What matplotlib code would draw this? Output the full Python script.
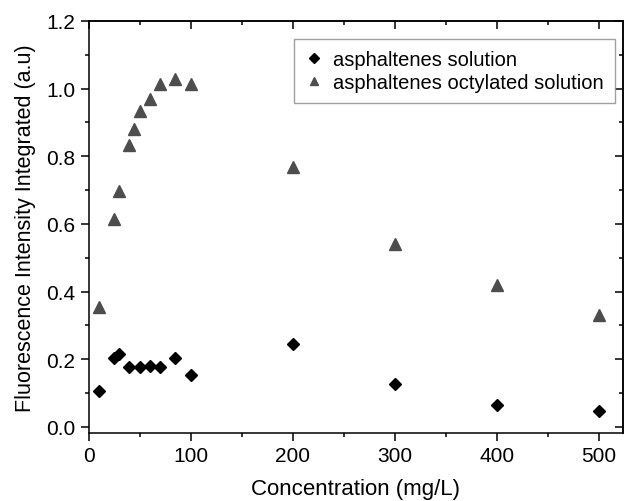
import numpy as np
import matplotlib
matplotlib.use('Agg')
import matplotlib.pyplot as plt
from matplotlib.ticker import MultipleLocator

plt.rcParams['font.family'] = ['Liberation Sans', 'DejaVu Sans']

# Data
conc_plain = [10, 25, 30, 40, 50, 60, 70, 85, 100, 200, 300, 400, 500]
fluo_plain = [0.106, 0.205, 0.215, 0.176, 0.176, 0.180, 0.177, 0.205, 0.152,
              0.245, 0.128, 0.065, 0.047]

conc_oct = [10, 25, 30, 40, 45, 50, 60, 70, 85, 100, 200, 300, 400, 500]
fluo_oct = [0.354, 0.615, 0.697, 0.832, 0.882, 0.935, 0.968, 1.015, 1.029,
            1.015, 0.767, 0.540, 0.419, 0.332]

fig = plt.figure(figsize=(6.25, 5.02), dpi=100)
ax = fig.add_axes([0.1416, 0.1355, 0.8546, 0.8207])

ax.plot(conc_plain, fluo_plain, linestyle='none', marker='D', ms=6.5,
        color='black', label='asphaltenes solution')
ax.plot(conc_oct, fluo_oct, linestyle='none', marker='^', ms=8,
        color='#4d4d4d', label='asphaltenes octylated solution')

ax.set_xlim(0, 523)
ax.set_ylim(-0.018, 1.2)
ax.xaxis.set_major_locator(MultipleLocator(100))
ax.xaxis.set_minor_locator(MultipleLocator(50))
ax.yaxis.set_major_locator(MultipleLocator(0.2))
ax.yaxis.set_minor_locator(MultipleLocator(0.1))
ax.tick_params(which='major', direction='out', length=6, width=1.1, labelsize=15)
ax.tick_params(which='minor', direction='out', length=3, width=1.1)

# inward ticks on the top and right sides
top = ax.secondary_xaxis('top')
top.xaxis.set_major_locator(MultipleLocator(100))
top.xaxis.set_minor_locator(MultipleLocator(50))
top.tick_params(which='major', direction='in', length=6, width=1.1, labeltop=False)
top.tick_params(which='minor', direction='in', length=3, width=1.1)
right = ax.secondary_yaxis('right')
right.yaxis.set_major_locator(MultipleLocator(0.2))
right.yaxis.set_minor_locator(MultipleLocator(0.1))
right.tick_params(which='major', direction='in', length=6, width=1.1, labelright=False)
right.tick_params(which='minor', direction='in', length=3, width=1.1)

for a in (ax, top, right):
    for s in a.spines.values():
        s.set_linewidth(1.1)

ax.set_xlabel('Concentration (mg/L)', fontsize=16, labelpad=9)
ax.set_ylabel('Fluorescence Intensity Integrated (a.u)', fontsize=15.5, labelpad=7)

leg = ax.legend(loc='upper right', bbox_to_anchor=(0.9856, 0.956), borderaxespad=0,
                fontsize=14.5, frameon=True, fancybox=False, handlelength=0.9,
                handletextpad=0.5, labelspacing=0.2, borderpad=0.55, markerscale=0.8)
leg.get_frame().set_edgecolor('#888888')
leg.get_frame().set_linewidth(1.0)

fig.savefig('out.png', dpi=100)
